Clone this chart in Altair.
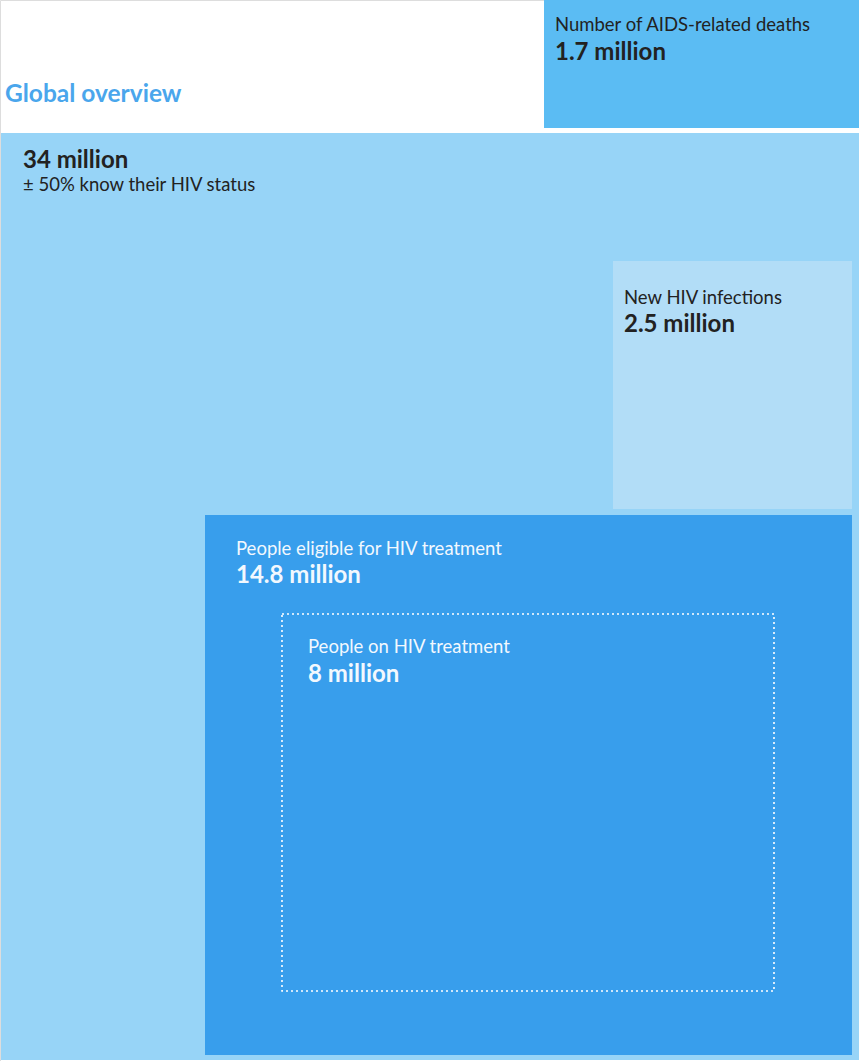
import altair as alt
import pandas as pd

# ---- data ----
labels = ["People living with HIV", "Number of AIDS-related deaths", "New HIV infections",
          "People eligible for HIV treatment", "People on HIV treatment"]
values_millions = [34, 1.7, 2.5, 14.8, 8]
value_text = ["34 million", "1.7 million", "2.5 million", "14.8 million", "8 million"]
subtitle_big = "± 50% know their HIV status"
title_text = "Global overview"

# ---- layout (pixel-like coordinates in a 859 x 1061 frame) ----
box_x = [1, 544, 613, 205, 282]
box_x2 = [859, 859, 852, 852, 774]
box_y = [133, 0, 261, 515, 614]
box_y2 = [1060, 128, 509, 1055, 991]
box_fill = ["#97d4f7", "#5bbcf3", "#b2ddf7", "#389eec", "none"]

W, H = 859, 1061
xs = alt.Scale(domain=[0, W], range=[0, W], nice=False, zero=False)
ys = alt.Scale(domain=[0, H], range=[0, H], nice=False, zero=False)

boxes = pd.DataFrame({"label": labels, "v": values_millions,
                      "x": box_x, "x2": box_x2, "y": box_y, "y2": box_y2, "fill": box_fill})

filled = alt.Chart(boxes[boxes.fill != "none"]).mark_rect(strokeWidth=0).encode(
    x=alt.X("x:Q", scale=xs, axis=None), x2="x2:Q",
    y=alt.Y("y:Q", scale=ys, axis=None), y2="y2:Q",
    fill=alt.Fill("fill:N", scale=None),
    order=alt.Order("v:Q", sort="descending"),
)
dotted = alt.Chart(boxes[boxes.fill == "none"]).mark_rect(
    fillOpacity=0, stroke="white", strokeWidth=1.6, strokeDash=[2, 3]
).encode(
    x=alt.X("x:Q", scale=xs, axis=None), x2="x2:Q",
    y=alt.Y("y:Q", scale=ys, axis=None), y2="y2:Q",
)

# text layers
lab_x = [555, 624, 236, 308]
lab_y = [31, 304, 555, 653]
val_y = [60, 332, 583, 682]
txt_col = ["#222222", "#222222", "#f2f8fe", "#f2f8fe"]

lab_df = pd.DataFrame({"t": labels[1:], "x": lab_x, "y": lab_y, "c": txt_col})
val_df = pd.DataFrame({"t": [value_text[0]] + value_text[1:], "x": [23] + lab_x,
                       "y": [168] + val_y, "c": ["#222222"] + txt_col})
sub_df = pd.DataFrame({"t": [subtitle_big], "x": [23], "y": [191]})
title_df = pd.DataFrame({"t": [title_text], "x": [5], "y": [102]})

def text_layer(df, size, weight, color=None):
    enc = dict(x=alt.X("x:Q", scale=xs, axis=None), y=alt.Y("y:Q", scale=ys, axis=None), text="t:N")
    if color is None:
        enc["color"] = alt.Color("c:N", scale=None)
    mk = dict(align="left", baseline="alphabetic", font="Lato", fontSize=size, fontWeight=weight)
    if color is not None:
        mk["color"] = color
    return alt.Chart(df).mark_text(**mk).encode(**enc)

chart = alt.layer(
    filled, dotted,
    text_layer(lab_df, 18.5, "normal"),
    text_layer(val_df, 24, "bold"),
    text_layer(sub_df, 18.5, "normal", "#222222"),
    text_layer(title_df, 24.5, "bold", "#4aa6ec"),
).properties(width=W, height=H, padding=0, autosize=alt.AutoSizeParams(type="none")
).configure_view(strokeWidth=0, stroke="transparent").configure(background="white")

chart.save("out.html", embed_options={"renderer": "svg", "actions": False})
